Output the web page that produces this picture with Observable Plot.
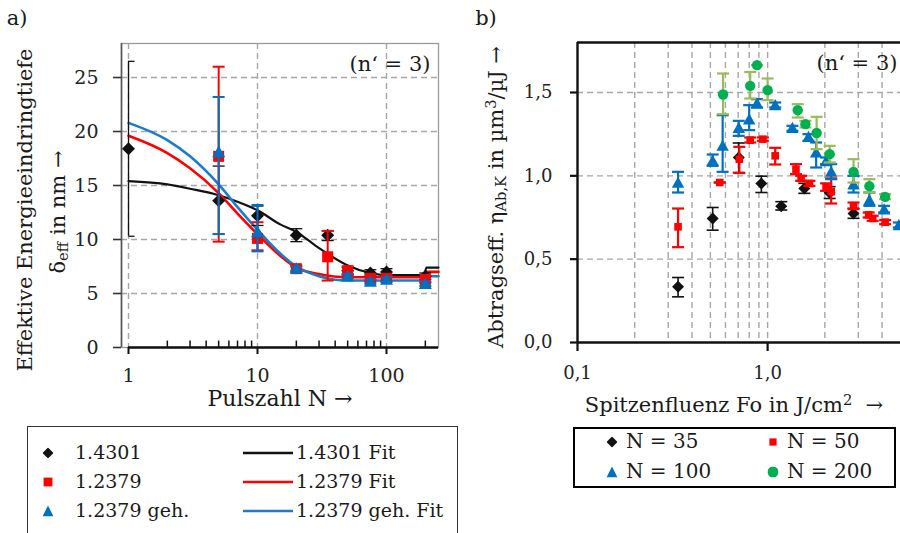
<!DOCTYPE html>
<html><head><meta charset="utf-8">
<script src="https://cdn.jsdelivr.net/npm/d3@7"></script>
<script src="https://cdn.jsdelivr.net/npm/@observablehq/plot@0.6"></script>
<style>
body{margin:0;background:#fff;}
#wrap{position:relative;width:900px;height:533px;overflow:hidden;font-family:'DejaVu Serif','Liberation Serif',serif;color:#1a1a1a;background:#fff;}
.abs{position:absolute;white-space:nowrap;line-height:1;}
.rot{transform:translate(-50%,-50%) rotate(-90deg);}
.ctr{transform:translate(-50%,-50%);}
sub{font-size:70%;vertical-align:-0.25em;line-height:0;}
sup{font-size:70%;vertical-align:0.45em;line-height:0;}
#wrap svg.plot{position:absolute;top:0;overflow:visible;}
</style></head><body><div id="wrap"></div>
<script>
// ---------- Panel a data ----------
const nBlack = [1, 5, 10, 20, 35, 50, 75, 100, 200];
const vBlack = [18.4, 13.6, 12.2, 10.4, 10.4, 7.1, 6.9, 7.0, 6.6];
const loBlack = [10.3, 10.5, 11.3, 9.8, 9.9, 6.8, 6.6, 6.7, 6.3];
const hiBlack = [26.5, 16.8, 13.1, 11.0, 10.8, 7.4, 7.2, 7.3, 6.9];

const nRed = [5, 10, 20, 35, 50, 75, 100, 200];
const vRed = [17.7, 10.1, 7.3, 8.4, 7.1, 6.4, 6.4, 6.3];
const loRed = [9.8, 9.0, 7.0, 6.2, 6.7, 6.1, 6.1, 6.0];
const hiRed = [26.0, 11.6, 7.6, 10.8, 7.5, 6.7, 6.7, 6.6];

const nBlue = [5, 10, 20, 50, 75, 100, 200];
const vBlue = [18.1, 10.7, 7.3, 6.6, 6.1, 6.3, 5.9];
const loBlue = [10.5, 8.9, 7.1, 6.4, 5.9, 6.1, 5.7];
const hiBlue = [23.2, 13.2, 7.5, 6.8, 6.3, 6.5, 6.1];

const fitN = [1, 2, 3, 5, 7, 10, 15, 20, 30, 50, 75, 100, 150, 196, 204, 253];
const fitBlack = [15.4, 15.1, 14.7, 14.1, 13.5, 12.7, 11.4, 10.7, 9.2, 7.6, 6.9, 6.7, 6.7, 6.7, 7.4, 7.4];
const fitRed = [19.6, 18.0, 16.6, 14.3, 12.4, 10.5, 8.5, 7.4, 6.8, 6.5, 6.5, 6.5, 6.5, 6.5, 7.0, 7.0];
const fitBlue = [20.8, 19.2, 17.7, 15.1, 13.0, 10.9, 8.7, 7.5, 6.6, 6.2, 6.2, 6.2, 6.2, 6.2, 6.6, 6.6];

const xDomA = [0.8825, 253];
const yDomA = [0, 28.15];
const yTicksA = [0, 5, 10, 15, 20, 25];
const xTicksA = [1, 10, 100];
const xMinorA = [2, 3, 4, 5, 6, 7, 8, 9, 20, 30, 40, 50, 60, 70, 80, 90, 200];

// ---------- Panel b data ----------
const f35 = [0.338, 0.514, 0.705, 0.927, 1.18, 1.56, 2.12, 2.83];
const v35 = [0.334, 0.744, 1.11, 0.954, 0.818, 0.924, 0.898, 0.774];
const lo35 = [0.274, 0.674, 1.02, 0.90, 0.795, 0.895, 0.864, 0.745];
const hi35 = [0.39, 0.81, 1.197, 0.998, 0.845, 0.955, 0.935, 0.805];

const f50 = [0.338, 0.56, 0.71, 0.81, 0.944, 1.096, 1.41, 1.50, 1.66, 2.03, 2.16, 2.83, 3.40, 3.57, 4.15];
const v50 = [0.694, 0.96, 1.10, 1.214, 1.22, 1.12, 1.04, 0.984, 0.954, 0.933, 0.905, 0.82, 0.766, 0.744, 0.722];
const lo50 = [0.572, 0.96, 1.017, 1.20, 1.21, 1.068, 1.01, 0.97, 0.94, 0.91, 0.834, 0.80, 0.75, 0.73, 0.71];
const hi50 = [0.804, 0.96, 1.174, 1.23, 1.23, 1.168, 1.07, 1.0, 0.97, 0.955, 0.985, 0.84, 0.78, 0.76, 0.735];

const f100 = [0.338, 0.514, 0.58, 0.705, 0.80, 0.88, 1.096, 1.35, 1.64, 1.80, 2.03, 2.16, 2.83, 3.43, 4.10, 4.9];
const v100 = [0.958, 1.09, 1.18, 1.287, 1.338, 1.434, 1.424, 1.287, 1.233, 1.14, 1.088, 1.024, 0.948, 0.854, 0.798, 0.704];
const lo100 = [0.90, 1.06, 1.024, 1.24, 1.274, 1.41, 1.41, 1.27, 1.21, 1.05, 1.07, 0.98, 0.90, 0.82, 0.78, 0.69];
const hi100 = [1.024, 1.128, 1.364, 1.33, 1.424, 1.46, 1.44, 1.30, 1.25, 1.20, 1.11, 1.07, 1.00, 0.90, 0.82, 0.72];

const f200 = [0.583, 0.81, 0.88, 1.0, 1.44, 1.58, 1.81, 2.12, 2.83, 3.43, 4.15];
const v200 = [1.488, 1.54, 1.664, 1.514, 1.394, 1.31, 1.257, 1.13, 1.024, 0.938, 0.874];
const lo200 = [1.37, 1.464, 1.664, 1.454, 1.35, 1.29, 1.16, 1.08, 0.96, 0.90, 0.86];
const hi200 = [1.614, 1.623, 1.664, 1.584, 1.43, 1.33, 1.354, 1.18, 1.10, 0.98, 0.89];

const xDomB = [0.1, 5];
const yDomB = [0, 1.8];
const yTicksB = [0, 0.5, 1.0, 1.5];
const xTicksB = [0.1, 1.0];
const xGridB = [0.2, 0.3, 0.4, 0.5, 0.6, 0.7, 0.8, 0.9, 1, 2, 3, 4];

// ---------- helpers ----------
const ser = (xs, vs, lo, hi) => xs.map((x, i) => ({x, v: vs[i], lo: lo[i], hi: hi[i]}));
const fit = (xs, ys) => xs.map((x, i) => ({x, y: ys[i]}));
const capSym = {draw(ctx, size) { const w = Math.sqrt(size / Math.PI); ctx.moveTo(-w, 0); ctx.lineTo(w, 0); }};
const capRight = {draw(ctx, size) { const w = Math.sqrt(size / Math.PI); ctx.moveTo(0, 0); ctx.lineTo(w, 0); }};
const triSym = {draw(ctx, size) { const w = Math.sqrt(size / Math.PI); ctx.moveTo(0, -w * 1.0); ctx.lineTo(w, w * 0.8); ctx.lineTo(-w, w * 0.8); ctx.closePath(); }};
const diaSym = {draw(ctx, size) { const w = Math.sqrt(size / Math.PI); ctx.moveTo(0, -w); ctx.lineTo(w, 0); ctx.lineTo(0, w); ctx.lineTo(-w, 0); ctx.closePath(); }};
const sqSym = {draw(ctx, size) { const w = Math.sqrt(size / Math.PI); ctx.rect(-w, -w, 2 * w, 2 * w); }};

function errMarks(data, color, capR, sw) {
  return [
    Plot.ruleX(data, {x: "x", y1: "lo", y2: "hi", stroke: color, strokeWidth: sw}),
    Plot.dot(data, {x: "x", y: "lo", symbol: capSym, r: capR, stroke: color, strokeWidth: sw, fill: "none"}),
    Plot.dot(data, {x: "x", y: "hi", symbol: capSym, r: capR, stroke: color, strokeWidth: sw, fill: "none"})
  ];
}

const BLACK = "#111111", RED = "#ff0000", BLUE = "#0070c0", GREEN = "#00b050", OLIVE = "#9bbb59", BLUEL = "#1a7ccc";
const gridStyle = {stroke: "#a6a6a6", strokeOpacity: 1, strokeWidth: 1.4, strokeDasharray: "6,4"};
const font = "'DejaVu Serif','Liberation Serif',serif";

// ---------- Panel a ----------
const sBlack = ser(nBlack, vBlack, loBlack, hiBlack);
const sRed = ser(nRed, vRed, loRed, hiRed);
const sBlue = ser(nBlue, vBlue, loBlue, hiBlue);

const plotA = Plot.plot({
  width: 460, height: 420,
  marginLeft: 121, marginRight: 22, marginTop: 43, marginBottom: 73,
  x: {type: "log", domain: xDomA},
  y: {domain: yDomA},
  style: {fontFamily: font, fontSize: "19px", color: "#222", background: "transparent", overflow: "visible"},
  marks: [
    Plot.gridY(yTicksA.slice(1), gridStyle),
    Plot.gridX(xTicksA, gridStyle),
    Plot.frame({stroke: "#9a9a9a", strokeWidth: 1.3}),
    Plot.ruleX([xDomA[0]], {stroke: "#555", strokeWidth: 1.6}),
    Plot.ruleY([0], {x1: xTicksA[0], x2: xDomA[1], stroke: BLACK, strokeWidth: 2.4}),
    Plot.axisY({ticks: yTicksA, tickSize: 8, tickPadding: 15, tickFormat: d => String(d), label: null, stroke: "#333", strokeWidth: 1.6, fill: "#222"}),
    Plot.axisX({ticks: xTicksA, tickSize: 7, tickPadding: 14, tickFormat: d => String(d), label: null, stroke: BLACK, strokeWidth: 2, fill: "#222"}),
    Plot.ruleX(xMinorA, {y1: yDomA[0], y2: 0.6, stroke: BLACK, strokeWidth: 1.5}),
    Plot.line(fit(fitN, fitBlack), {x: "x", y: "y", stroke: BLACK, strokeWidth: 2.2, curve: "monotone-x"}),
    Plot.line(fit(fitN, fitRed), {x: "x", y: "y", stroke: RED, strokeWidth: 2.6, curve: "monotone-x"}),
    Plot.line(fit(fitN, fitBlue), {x: "x", y: "y", stroke: BLUEL, strokeWidth: 2.6, curve: "monotone-x"}),
    Plot.ruleX(sBlack, {x: "x", y1: "lo", y2: "hi", stroke: BLACK, strokeWidth: 1.3}),
    Plot.dot(sBlack.slice(0, 1), {x: "x", y: "lo", symbol: capRight, r: 6, stroke: BLACK, strokeWidth: 1.3, fill: "none"}),
    Plot.dot(sBlack.slice(0, 1), {x: "x", y: "hi", symbol: capRight, r: 6, stroke: BLACK, strokeWidth: 1.3, fill: "none"}),
    Plot.dot(sBlack.slice(1), {x: "x", y: "lo", symbol: capSym, r: 6, stroke: BLACK, strokeWidth: 1.3, fill: "none"}),
    Plot.dot(sBlack.slice(1), {x: "x", y: "hi", symbol: capSym, r: 6, stroke: BLACK, strokeWidth: 1.3, fill: "none"}),
    Plot.dot(sBlack, {x: "x", y: "v", symbol: diaSym, r: 6.5, fill: BLACK, stroke: "none"}),
    ...errMarks(sRed, RED, 6, 2),
    Plot.dot(sRed, {x: "x", y: "v", symbol: sqSym, r: 5.5, fill: RED, stroke: "none"}),
    ...errMarks(sBlue, BLUE, 6, 2),
    Plot.dot(sBlue, {x: "x", y: "v", symbol: triSym, r: 6.5, fill: BLUE, stroke: "none"})
  ]
});

// ---------- Panel b ----------
const s35 = ser(f35, v35, lo35, hi35);
const s50 = ser(f50, v50, lo50, hi50);
const s100 = ser(f100, v100, lo100, hi100);
const s200 = ser(f200, v200, lo200, hi200);
const commaFmt = d => d.toFixed(1).replace(".", ",");

const plotB = Plot.plot({
  width: 440, height: 420,
  marginLeft: 117, marginRight: 0, marginTop: 42, marginBottom: 78,
  x: {type: "log", domain: xDomB},
  y: {domain: yDomB},
  style: {fontFamily: font, fontSize: "18px", color: "#222", background: "transparent", overflow: "visible"},
  marks: [
    Plot.gridY(yTicksB.slice(1), gridStyle),
    Plot.gridX(xGridB, gridStyle),
    Plot.ruleY([yDomB[1]], {stroke: BLACK, strokeWidth: 2.4}),
    Plot.ruleX([xDomB[0]], {stroke: BLACK, strokeWidth: 2.4}),
    Plot.ruleY([yDomB[0]], {stroke: BLACK, strokeWidth: 2.4}),
    Plot.axisY({ticks: yTicksB, tickSize: 7, tickPadding: 18, tickFormat: commaFmt, label: null, stroke: BLACK, strokeWidth: 2.2, fill: "#222"}),
    Plot.axisX({ticks: xTicksB, tickSize: 9, tickPadding: 15, tickFormat: commaFmt, label: null, stroke: BLACK, strokeWidth: 2.2, fill: "#222"}),
    ...errMarks(s35, BLACK, 6, 1.6),
    Plot.dot(s35, {x: "x", y: "v", symbol: diaSym, r: 6, fill: BLACK, stroke: "none"}),
    ...errMarks(s50, RED, 6, 2.2),
    Plot.dot(s50, {x: "x", y: "v", symbol: sqSym, r: 3.8, fill: RED, stroke: "none"}),
    ...errMarks(s100, BLUE, 6, 2.2),
    Plot.dot(s100, {x: "x", y: "v", symbol: triSym, r: 6.2, fill: BLUE, stroke: "none"}),
    ...errMarks(s200, OLIVE, 6, 2.2),
    Plot.dot(s200, {x: "x", y: "v", r: 5.2, fill: GREEN, stroke: "none"})
  ]
});

const wrap = document.getElementById("wrap");
plotA.classList.add("plot"); plotB.classList.add("plot");
plotA.style.left = "0px"; plotB.style.left = "460px";
wrap.appendChild(plotA); wrap.appendChild(plotB);

// ---------- Labels & legends (HTML) ----------
function addDiv(html, left, top, cls, style) {
  const d = document.createElement("div");
  d.className = "abs " + (cls || "");
  d.innerHTML = html;
  d.style.left = left + "px"; d.style.top = top + "px";
  Object.assign(d.style, style || {});
  wrap.appendChild(d);
  return d;
}
addDiv("a)", 17, 18, "ctr", {fontSize: "21px"});
addDiv("b)", 486, 18, "ctr", {fontSize: "21px"});
addDiv("Effektive Energieeindringtiefe", 25, 210, "rot", {fontSize: "21px"});
addDiv("δ<sub>eff</sub> in nm →", 58, 212, "rot", {fontSize: "21px"});
addDiv("Pulszahl N →", 280, 399, "ctr", {fontSize: "22px"});
addDiv("(n‘ = 3)", 390, 64, "ctr", {fontSize: "21px"});
addDiv("Abtragseff. η<sub>Ab,K</sub> in µm<sup>3</sup>/µJ →", 496, 197, "rot", {fontSize: "21px"});
addDiv("Spitzenfluenz Fo in J/cm<sup>2</sup> &nbsp;→", 734, 405, "ctr", {fontSize: "21px"});
addDiv("(n‘ = 3)", 857, 63, "ctr", {fontSize: "21px"});

// legend symbols
const symSvg = (kind, color, s) => {
  const h = s / 2;
  let p = "";
  if (kind === "dia") p = `<path d="M${h},0L${s},${h}L${h},${s}L0,${h}Z" fill="${color}"/>`;
  if (kind === "sq") p = `<rect x="${s*0.1}" y="${s*0.1}" width="${s*0.8}" height="${s*0.8}" fill="${color}"/>`;
  if (kind === "tri") p = `<path d="M${h},0L${s},${s}L0,${s}Z" fill="${color}"/>`;
  if (kind === "circ") p = `<circle cx="${h}" cy="${h}" r="${h}" fill="${color}"/>`;
  if (kind === "line") return `<svg width="50" height="4" style="display:block"><line x1="0" y1="2" x2="50" y2="2" stroke="${color}" stroke-width="2.4"/></svg>`;
  return `<svg width="${s}" height="${s}" style="display:block">${p}</svg>`;
};
addDiv("", 27, 426, "", {width: "431px", height: "130px", border: "1.5px solid #333", boxSizing: "border-box"});
const legAItems = [
  ["dia", BLACK, "1.4301", "1.4301 Fit"],
  ["sq", RED, "1.2379", "1.2379 Fit"],
  ["tri", BLUE, "1.2379 geh.", "1.2379 geh. Fit"]
];
const legARows = [453, 482, 511];
legAItems.forEach((it, i) => {
  addDiv(symSvg(it[0], it[1], 11), 48, legARows[i], "ctr");
  addDiv(it[2], 75, legARows[i], "", {fontSize: "19px", transform: "translateY(-55%)"});
  addDiv(symSvg("line", it[1] === BLUE ? BLUEL : it[1], 0), 268, legARows[i], "ctr");
  addDiv(it[3], 296, legARows[i], "", {fontSize: "19px", transform: "translateY(-55%)"});
});
addDiv("", 573, 427, "", {width: "323px", height: "61px", border: "2px solid #000", boxSizing: "border-box"});
const legBItems = [
  ["dia", BLACK, "N = 35", 612, 442],
  ["sq", RED, "N = 50", 773, 442],
  ["tri", BLUE, "N = 100", 612, 472],
  ["circ", GREEN, "N = 200", 773, 472]
];
legBItems.forEach(it => {
  addDiv(symSvg(it[0], it[1], it[0] === "sq" ? 9 : 11), it[3], it[4], "ctr");
  addDiv(it[2], it[3] + 14, it[4], "", {fontSize: "20px", transform: "translateY(-55%)"});
});
</script></body></html>
